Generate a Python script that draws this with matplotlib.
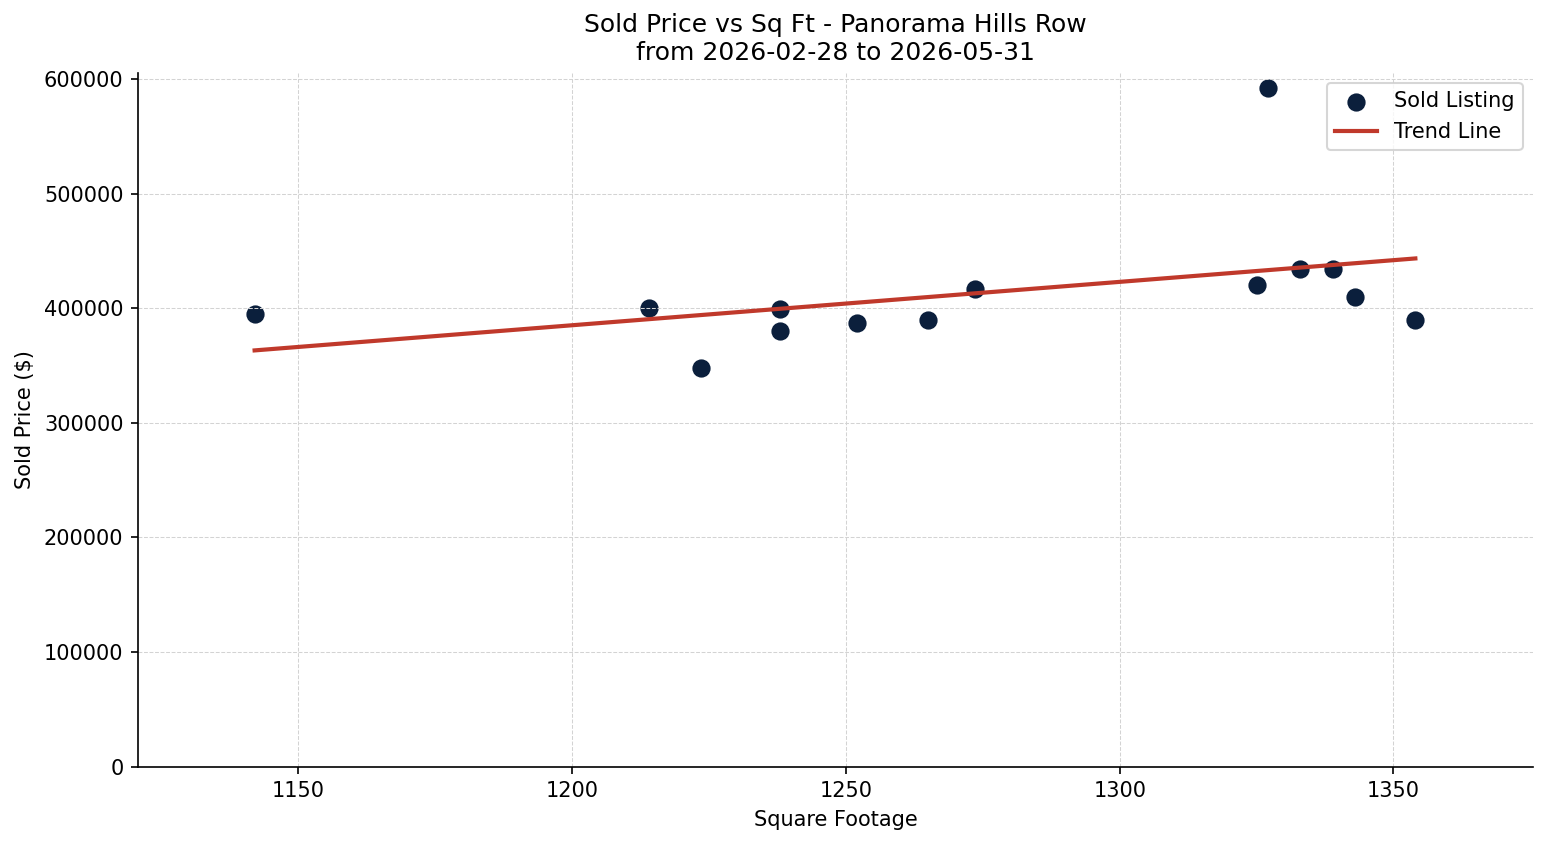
import numpy as np
import matplotlib
matplotlib.use("Agg")
from matplotlib import pyplot as plt

# data
sqft = [1142, 1214, 1223.5, 1238, 1238, 1252, 1265, 1273.5, 1325, 1327, 1333, 1339, 1343, 1354]
price = [395000, 400000, 348000, 399000, 380000, 387000, 390000, 417000,
         420000, 592000, 434000, 434000, 410000, 390000]

title = "Sold Price vs Sq Ft - Panorama Hills Row\nfrom 2026-02-28 to 2026-05-31"

x = np.array(sqft, dtype=float)
y = np.array(price, dtype=float)

fig, ax = plt.subplots(figsize=(1547 / 150, 845 / 150), dpi=150)
fig.subplots_adjust(left=0.0892, right=0.991, bottom=0.0926, top=0.914)

ax.scatter(x, y, s=60, color="#0b1f3c", label="Sold Listing")

# linear trend line
m, b = np.polyfit(x, y, 1)
xs = np.array([x.min(), x.max()])
ax.plot(xs, m * xs + b, color="#c0392b", linewidth=2, label="Trend Line")

ax.set_xlim(1120.7, 1375.5)
ax.set_ylim(0, 605500)

ax.set_title(title, fontsize=12)
ax.set_xlabel("Square Footage")
ax.set_ylabel("Sold Price ($)")
ax.grid(True, linestyle="--", linewidth=0.5, color="lightgray")
ax.spines["top"].set_visible(False)
ax.spines["right"].set_visible(False)
ax.legend(loc="upper right")

fig.savefig("out.png", dpi=150)
